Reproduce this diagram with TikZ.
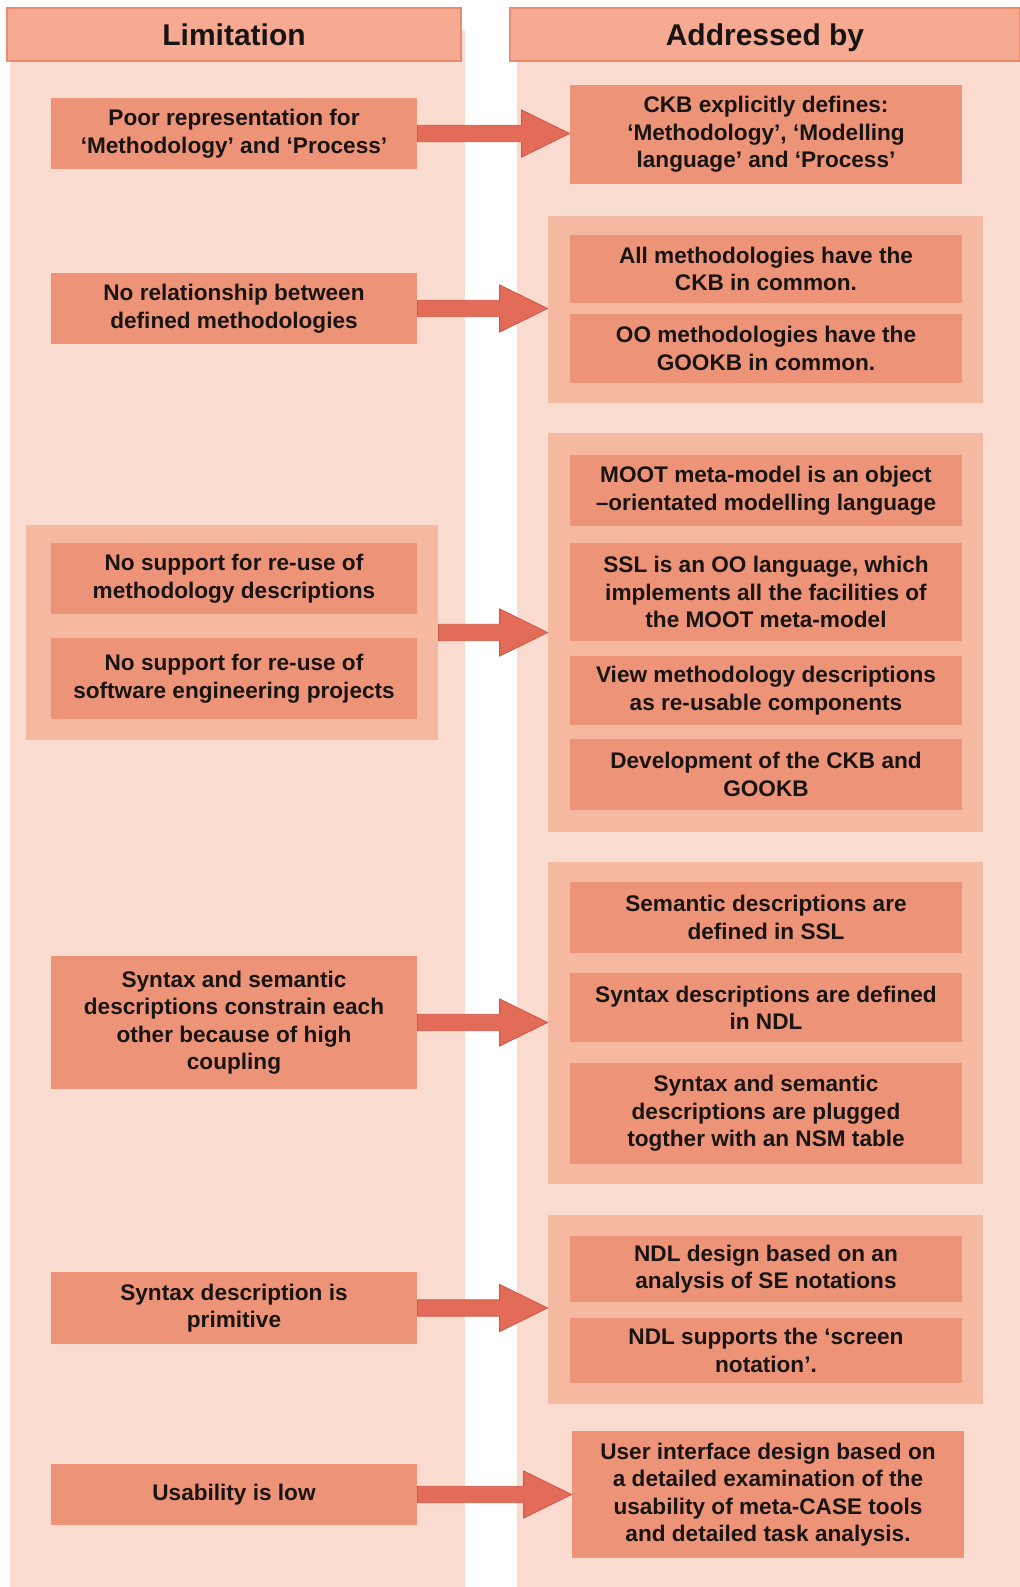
\documentclass[tikz,border=0pt]{standalone}
\usepackage{fontspec}
\setmainfont{Liberation Sans}
\usetikzlibrary{calc}
\definecolor{colbg}{RGB}{250,219,208}
\definecolor{hdrfill}{RGB}{245,170,145}
\definecolor{hdrline}{RGB}{232,140,112}
\definecolor{boxfill}{RGB}{237,148,120}
\definecolor{grpfill}{RGB}{245,184,160}
\definecolor{arrfill}{RGB}{226,108,88}
\definecolor{arrline}{RGB}{205,88,72}
\definecolor{txt}{RGB}{25,20,20}
\tikzset{
  hdr/.style={fill=hdrfill, draw=hdrline, line width=0.6pt, font=\fontsize{15}{18}\selectfont\bfseries, text=txt, text height=12.5pt, text depth=1.5pt},
  box/.style={fill=boxfill, font=\fontsize{11.3}{13.7}\selectfont\bfseries, text=txt, align=center},
  grp/.style={fill=grpfill},
  colbox/.style={fill=colbg},
  bigarrow/.style={fill=arrfill, draw=arrline, line width=0.4pt},
}
\newcommand\pbox[7]{%
  \node[#1, inner sep=0pt, minimum width={(#5-#3)*0.5pt}, minimum height={(#6-#4)*0.5pt}] (#2) at ({(#3+#5)/2},{(#4+#6)/2}) {#7};}
\newcommand\bigarr[2]{%
  \draw[bigarrow] let \p1=(#1.east), \p2=(#2.west) in
    (\x1,\y1+4.1pt) -- (\x2-24pt,\y1+4.1pt) -- (\x2-24pt,\y1+11.8pt) -- (\x2,\y1)
    -- (\x2-24pt,\y1-11.8pt) -- (\x2-24pt,\y1-4.1pt) -- (\x1,\y1-4.1pt) -- cycle;}
\begin{document}
\begin{tikzpicture}[x=0.5pt,y=-0.5pt]
\useasboundingbox[fill=white] (0,0) rectangle (1020,1587);
% columns
\pbox{colbox}{colL}{10}{30}{465}{1587}{}
\pbox{colbox}{colR}{517}{30}{1020}{1587}{}
% headers
\pbox{hdr}{hL}{7}{8}{461}{61}{Limitation}
\pbox{hdr}{hR}{510}{8}{1020}{61}{Addressed by}
% row 1
\pbox{box}{L1}{51}{98}{417}{169}{Poor representation for\\‘Methodology’ and ‘Process’}
\pbox{box}{R1}{570}{85}{962}{184}{CKB explicitly defines:\\‘Methodology’, ‘Modelling\\language’ and ‘Process’}
% row 2
\pbox{grp}{G2}{548}{216}{983}{403}{}
\pbox{box}{R2a}{570}{235}{962}{303}{All methodologies have the\\CKB in common.}
\pbox{box}{R2b}{570}{314}{962}{383}{OO methodologies have the\\GOOKB in common.}
\pbox{box}{L2}{51}{273}{417}{344}{No relationship between\\defined methodologies}
% row 3
\pbox{grp}{G3R}{548}{433}{983}{832}{}
\pbox{box}{R3a}{570}{455}{962}{526}{MOOT meta-model is an object\\–orientated modelling language}
\pbox{box}{R3b}{570}{543}{962}{641}{SSL is an OO language, which\\implements all the facilities of\\the MOOT meta-model}
\pbox{box}{R3c}{570}{656}{962}{725}{View methodology descriptions\\as re-usable components}
\pbox{box}{R3d}{570}{739}{962}{810}{Development of the CKB and\\GOOKB}
\pbox{grp}{G3L}{26}{525}{438}{740}{}
\pbox{box}{L3a}{51}{543}{417}{614}{No support for re-use of\\methodology descriptions}
\pbox{box}{L3b}{51}{638}{417}{719}{No support for re-use of\\software engineering projects}
% row 4
\pbox{grp}{G4}{548}{862}{983}{1184}{}
\pbox{box}{R4a}{570}{882}{962}{953}{Semantic descriptions are\\defined in SSL}
\pbox{box}{R4b}{570}{973}{962}{1042}{Syntax descriptions are defined\\in NDL}
\pbox{box}{R4c}{570}{1063}{962}{1164}{Syntax and semantic\\descriptions are plugged\\togther with an NSM table}
\pbox{box}{L4}{51}{956}{417}{1089}{Syntax and semantic\\descriptions constrain each\\other because of high\\coupling}
% row 5
\pbox{grp}{G5}{548}{1215}{983}{1404}{}
\pbox{box}{R5a}{570}{1236}{962}{1302}{NDL design based on an\\analysis of SE notations}
\pbox{box}{R5b}{570}{1318}{962}{1383}{NDL supports the ‘screen\\notation’.}
\pbox{box}{L5}{51}{1272}{417}{1344}{Syntax description is\\primitive}
% row 6
\pbox{box}{R6}{572}{1431}{964}{1558}{User interface design based on\\a detailed examination of the\\usability of meta-CASE tools\\and detailed task analysis.}
\pbox{box}{L6}{51}{1464}{417}{1525}{Usability is low}
% arrows
\bigarr{L1}{R1}
\bigarr{L2}{G2}
\bigarr{G3L}{G3R}
\bigarr{L4}{G4}
\bigarr{L5}{G5}
\bigarr{L6}{R6}
\end{tikzpicture}
\end{document}
